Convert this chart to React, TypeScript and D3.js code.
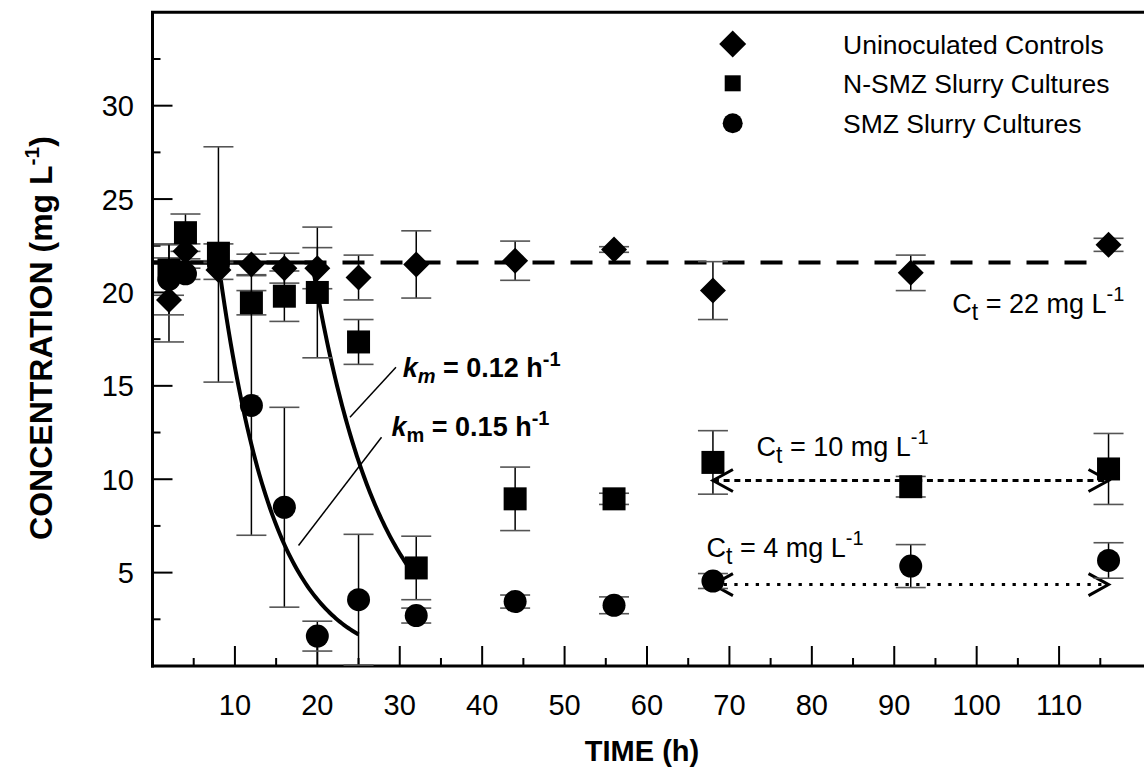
import React from 'react';
import * as d3 from 'd3';

const times = [2, 4, 8, 12, 16, 20, 25, 32, 44, 56, 68, 92, 116];
const controlMean = [19.6, 22.2, 21.2, 21.5, 21.3, 21.3, 20.8, 21.5, 21.7, 22.3, 20.1, 21.05, 22.55];
const controlErr = [2.25, 0.4, 0.5, 0.55, 0.8, 1.1, 1.2, 1.8, 1.05, 0.15, 1.55, 0.95, 0.35];
const nsmzMean = [21.2, 23.2, 22.1, 19.45, 19.8, 20.0, 17.35, 5.25, 8.95, 8.95, 10.9, 9.6, 10.55];
const nsmzErr = [1.35, 1.0, 0.5, 0.65, 1.35, 3.5, 1.2, 1.7, 1.7, 0.3, 1.7, 0.55, 1.9];
const smzMean = [20.7, 21.0, 21.5, 13.95, 8.5, 1.6, 3.55, 2.7, 3.45, 3.25, 4.55, 5.35, 5.65];
const smzErr = [1.9, 0.3, 6.3, 6.95, 5.35, 0.8, 3.5, 0.4, 0.35, 0.45, 0.4, 1.15, 0.95];

const xMajorTicks = [10, 20, 30, 40, 50, 60, 70, 80, 90, 100, 110];
const xMinorTicks = [5, 15, 25, 35, 45, 55, 65, 75, 85, 95, 105, 115];
const yMajorTicks = [5, 10, 15, 20, 25, 30];
const yMinorTicks = [2.5, 7.5, 12.5, 17.5, 22.5, 27.5, 32.5];

const legendLabels = ['Uninoculated Controls', 'N-SMZ Slurry Cultures', 'SMZ Slurry Cultures'];

// model parameters
const ctControl = 21.6;
const fastK = 0.15, fastT0 = 8, fastC0 = 21.6, fastEnd = 25;
const slowK = 0.12, slowT0 = 20, slowC0 = 20.0, slowStart = 19.4, slowEnd = 32;
const ct10 = 9.93, ct4 = 4.36, arrowFrom = 68, arrowTo = 116;

const FONT = '"Liberation Sans", Arial, Helvetica, sans-serif';

const x = d3.scaleLinear().domain([0, 120]).range([152.5, 1141.5]);
const y = d3.scaleLinear().domain([0, 35]).range([666, 12.3]);

function Diamond({ cx, cy, r }: { cx: number; cy: number; r: number }) {
  return <path d={`M${cx},${cy - r}L${cx + r},${cy}L${cx},${cy + r}L${cx - r},${cy}Z`} fill="#000" />;
}
function Square({ cx, cy, s }: { cx: number; cy: number; s: number }) {
  return <rect x={cx - s / 2} y={cy - s / 2} width={s} height={s} fill="#000" />;
}

function ErrorBars({ mean, err }: { mean: number[]; err: number[] }) {
  return (
    <g>
      {times.map((t, i) => {
        const cx = x(t);
        const top = y(mean[i] + err[i]);
        const bot = y(Math.max(0, mean[i] - err[i]));
        return (
          <g key={i}>
            <line x1={cx} x2={cx} y1={top} y2={bot} stroke="#000" strokeWidth={1.5} />
            <line x1={cx - 15} x2={cx + 15} y1={top} y2={top} stroke="#555" strokeWidth={1.6} />
            <line x1={cx - 15} x2={cx + 15} y1={bot} y2={bot} stroke="#555" strokeWidth={1.6} />
          </g>
        );
      })}
    </g>
  );
}

function CtLabel({ t, v, value }: { t: number; v: number; value: string }) {
  return (
    <text x={x(t)} y={y(v)} fontSize={27}>
      C<tspan fontSize={23} dy={7}>t</tspan><tspan dy={-7}> = {value} mg L</tspan><tspan fontSize={20} dy={-12}>-1</tspan>
    </text>
  );
}

export default function App() {
  const line = d3.line<[number, number]>().x(d => x(d[0])).y(d => y(d[1])).curve(d3.curveLinear);
  const fastPts: [number, number][] = d3.range(fastT0, fastEnd + 0.001, 0.25).map(t => [t, fastC0 * Math.exp(-fastK * (t - fastT0))]);
  const slowPts: [number, number][] = d3.range(slowStart, slowEnd + 0.001, 0.2).map(t => [t, slowC0 * Math.exp(-slowK * (t - slowT0))]);

  const arrow = (tip: number, yy: number, dir: number) => {
    const px = x(tip), py = y(yy);
    return <path d={`M${px + dir * 20},${py - 11}L${px},${py}L${px + dir * 20},${py + 11}`} fill="none" stroke="#000" strokeWidth={3} />;
  };

  const legendY = [44, 83.3, 123.3];

  return (
    <svg width={1144} height={771} style={{ position: 'absolute', left: 0, top: 0, background: '#fff' }} fontFamily={FONT}>
      {/* frame */}
      <line x1={x(0)} x2={x(0)} y1={y(35)} y2={y(0) + 1.5} stroke="#000" strokeWidth={3} />
      <line x1={x(0) - 1.5} x2={1144} y1={y(0)} y2={y(0)} stroke="#000" strokeWidth={3} />
      <line x1={x(0) - 1.5} x2={1144} y1={y(35)} y2={y(35)} stroke="#000" strokeWidth={3} />

      {/* ticks */}
      {xMajorTicks.map(t => <line key={'xM' + t} x1={x(t)} x2={x(t)} y1={y(0)} y2={y(0) - 20} stroke="#000" strokeWidth={2} />)}
      {xMinorTicks.map(t => <line key={'xm' + t} x1={x(t)} x2={x(t)} y1={y(0)} y2={y(0) - 8} stroke="#000" strokeWidth={2} />)}
      {yMajorTicks.map(v => <line key={'yM' + v} x1={x(0)} x2={x(0) + 20} y1={y(v)} y2={y(v)} stroke="#000" strokeWidth={2} />)}
      {yMinorTicks.map(v => <line key={'ym' + v} x1={x(0)} x2={x(0) + 8} y1={y(v)} y2={y(v)} stroke="#000" strokeWidth={2} />)}

      {/* tick labels */}
      {xMajorTicks.map(t => (
        <text key={'xl' + t} x={x(t)} y={714.5} fontSize={29} textAnchor="middle">{t}</text>
      ))}
      {yMajorTicks.map(v => (
        <text key={'yl' + v} x={134} y={y(v) + 10.5} fontSize={29} textAnchor="end">{v}</text>
      ))}

      {/* axis titles */}
      <text x={642} y={761} fontSize={29} fontWeight="bold" textAnchor="middle">TIME (h)</text>
      <text transform="translate(52,338) rotate(-90)" fontSize={32} fontWeight="bold" textAnchor="middle">
        CONCENTRATION (mg L<tspan fontSize={21} dy={-13}>-1</tspan><tspan dy={13}>)</tspan>
      </text>

      {/* reference lines */}
      <line x1={x(0)} x2={x(115)} y1={y(ctControl)} y2={y(ctControl)} stroke="#000" strokeWidth={4} strokeDasharray="22 16" />
      <line x1={x(0)} x2={x(slowStart)} y1={y(ctControl)} y2={y(ctControl)} stroke="#000" strokeWidth={4} />
      <path d={line(fastPts) || ''} fill="none" stroke="#000" strokeWidth={4} />
      <path d={line(slowPts) || ''} fill="none" stroke="#000" strokeWidth={4} />

      {/* target arrows */}
      <line x1={x(arrowFrom)} x2={x(arrowTo)} y1={y(ct10)} y2={y(ct10)} stroke="#000" strokeWidth={3} strokeDasharray="6 4.7" />
      {arrow(arrowFrom, ct10, 1)}
      {arrow(arrowTo, ct10, -1)}
      <line x1={x(arrowFrom)} x2={x(arrowTo)} y1={y(ct4)} y2={y(ct4)} stroke="#000" strokeWidth={3} strokeDasharray="3.3 7.4" />
      {arrow(arrowFrom, ct4, 1)}
      {arrow(arrowTo, ct4, -1)}

      {/* error bars */}
      <ErrorBars mean={controlMean} err={controlErr} />
      <ErrorBars mean={nsmzMean} err={nsmzErr} />
      <ErrorBars mean={smzMean} err={smzErr} />

      {/* markers */}
      {times.map((t, i) => <circle key={'c' + i} cx={x(t)} cy={y(smzMean[i])} r={11.5} fill="#000" />)}
      {times.map((t, i) => <Diamond key={'d' + i} cx={x(t)} cy={y(controlMean[i])} r={13} />)}
      {times.map((t, i) => <Square key={'s' + i} cx={x(t)} cy={y(nsmzMean[i])} s={23} />)}

      {/* leader lines */}
      <line x1={x(29.54)} y1={y(16.0)} x2={x(23.96)} y2={y(13.32)} stroke="#000" strokeWidth={1.5} />
      <line x1={x(27.79)} y1={y(12.25)} x2={x(17.72)} y2={y(6.45)} stroke="#000" strokeWidth={1.5} />

      {/* annotations */}
      <text x={x(30.35)} y={y(15.47)} fontSize={27} fontWeight="bold">
        <tspan fontStyle="italic">k</tspan><tspan fontStyle="italic" fontSize={20} dy={6}>m</tspan>
        <tspan dy={-6}> = 0.12 h</tspan><tspan fontSize={20} dy={-11}>-1</tspan>
      </text>
      <text x={x(29.0)} y={y(12.29)} fontSize={27} fontWeight="bold">
        <tspan fontStyle="italic">k</tspan><tspan fontSize={20} dy={6}>m</tspan>
        <tspan dy={-6}> = 0.15 h</tspan><tspan fontSize={20} dy={-11}>-1</tspan>
      </text>
      <CtLabel t={97.05} v={18.88} value="22" />
      <CtLabel t={73.3} v={11.27} value="10" />
      <CtLabel t={67.23} v={5.82} value="4" />

      {/* legend */}
      <Diamond cx={732.7} cy={legendY[0]} r={13.5} />
      <Square cx={732.7} cy={legendY[1]} s={16} />
      <circle cx={732.7} cy={legendY[2]} r={10} fill="#000" />
      {legendLabels.map((l, i) => (
        <text key={l} x={843} y={legendY[i] + 10} fontSize={26.5}>{l}</text>
      ))}
    </svg>
  );
}
